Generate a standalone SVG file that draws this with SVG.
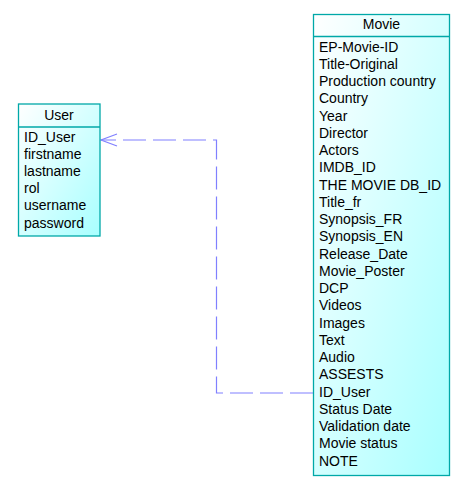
<svg xmlns="http://www.w3.org/2000/svg" width="464" height="496" viewBox="0 0 464 496">
<style>
.box{stroke:#00a8a8;stroke-width:1.3;}
.div{stroke:#00a8a8;stroke-width:1.3;}
text{font-family:"Liberation Sans",Arial,sans-serif;font-size:14px;fill:#000;}
.hd{text-anchor:middle;}
.conn{fill:none;stroke:#8080ff;stroke-width:1.2;}
</style>
<defs>
<linearGradient id="g" x1="0" y1="0" x2="1" y2="1">
<stop offset="0" stop-color="#ffffff"/>
<stop offset="1" stop-color="#a8ffff"/>
</linearGradient>
</defs>
<rect width="464" height="496" fill="#ffffff"/>
<g id="connectors">
<polyline class="conn" points="313,393 216.5,393 216.5,140 101,140" stroke-dasharray="23,7"/>
<polyline class="conn" points="117,134 101,140 117,146"/>
</g>
<g id="user">
<rect class="box" x="18.5" y="104" width="81.5" height="132" fill="url(#g)"/>
<line class="div" x1="18.5" y1="127" x2="100" y2="127"/>
<text class="hd" x="59" y="120">User</text>
<text x="24" y="141.5">ID_User</text>
<text x="24" y="158.7">firstname</text>
<text x="24" y="175.9">lastname</text>
<text x="24" y="193.1">rol</text>
<text x="24" y="210.3">username</text>
<text x="24" y="227.5">password</text>
</g>
<g id="movie">
<rect class="box" x="313.5" y="14.5" width="136" height="461" fill="url(#g)"/>
<line class="div" x1="313.5" y1="36.5" x2="449.5" y2="36.5"/>
<text class="hd" x="381.5" y="29">Movie</text>
<text x="319" y="51.7">EP-Movie-ID</text>
<text x="319" y="68.95">Title-Original</text>
<text x="319" y="86.2">Production country</text>
<text x="319" y="103.45">Country</text>
<text x="319" y="120.7">Year</text>
<text x="319" y="137.95">Director</text>
<text x="319" y="155.2">Actors</text>
<text x="319" y="172.45">IMDB_ID</text>
<text x="319" y="189.7">THE MOVIE DB_ID</text>
<text x="319" y="206.95">Title_fr</text>
<text x="319" y="224.2">Synopsis_FR</text>
<text x="319" y="241.45">Synopsis_EN</text>
<text x="319" y="258.7">Release_Date</text>
<text x="319" y="275.95">Movie_Poster</text>
<text x="319" y="293.2">DCP</text>
<text x="319" y="310.45">Videos</text>
<text x="319" y="327.7">Images</text>
<text x="319" y="344.95">Text</text>
<text x="319" y="362.2">Audio</text>
<text x="319" y="379.45">ASSESTS</text>
<text x="319" y="396.7">ID_User</text>
<text x="319" y="413.95">Status Date</text>
<text x="319" y="431.2">Validation date</text>
<text x="319" y="448.45">Movie status</text>
<text x="319" y="465.7">NOTE</text>
</g>
</svg>
